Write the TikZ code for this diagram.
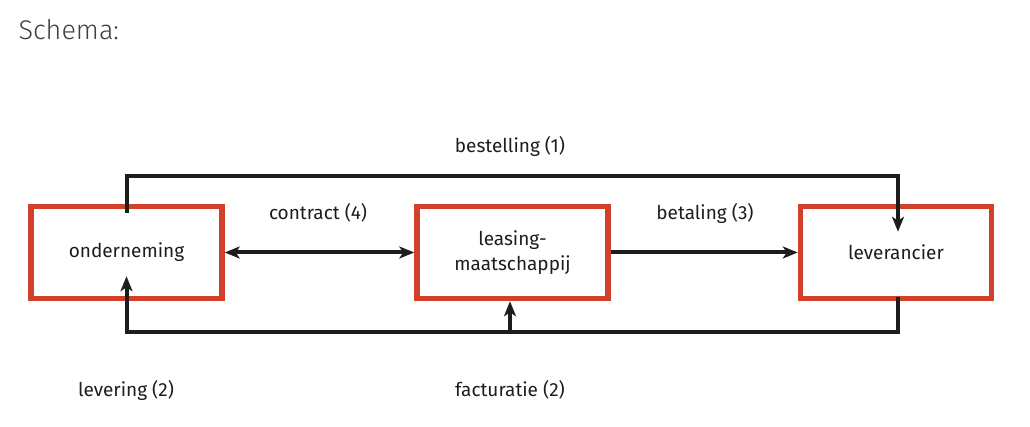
\documentclass[tikz,border=0pt]{standalone}
\usepackage{fontspec}
\setmainfont{Fira Sans}
\newfontfamily\schemafont{Fira Sans Light}
\usetikzlibrary{arrows.meta,calc}
\definecolor{boxred}{HTML}{D0402B}
\definecolor{ink}{HTML}{1D1D1B}

\begin{document}
\begin{tikzpicture}[x=1pt,y=-1pt,font=\fontsize{19}{25}\selectfont,
  party/.style={draw=boxred,line width=5.5pt,minimum width=191pt,minimum height=92pt,
    align=center,text=ink},
  link/.style={draw=ink,line width=4pt},
  tip/.style={-{Stealth[length=15pt,width=12pt,inset=4pt]}},
  flow/.style={text=ink}]
\useasboundingbox (0,0) rectangle (1030,427);

\node[anchor=base west,font=\schemafont\fontsize{27}{30}\selectfont,text=ink!85] (title) at (15,40) {Schema:};

\node[party] (ond) at (126.5,252.5) {onderneming};
\node[party] (lease) at (512.5,252.5) {leasing-\\maatschappij};
\node[party] (lev) at (896,252.5) {leverancier};
\coordinate (rail) at (0,332);

% bestelling
\draw[link,tip] ([yshift=-9pt]ond.north) -- ++(0,-37) -| ([xshift=2pt,yshift=-28pt]lev.north);
% levering en facturatie
\draw[link,tip] ([xshift=2pt,yshift=4pt]lev.south) -- ([xshift=2pt]lev.south |- rail) -- (ond.south |- rail)
  -- ([yshift=25pt]ond.south);
\draw[link,tip] ([xshift=-2.5pt]lease.south |- rail) -- ([xshift=-2.5pt]lease.south);
% contract en betaling
\draw[link,{Stealth[length=15pt,width=12pt,inset=4pt]}-{Stealth[length=15pt,width=12pt,inset=4pt]}] (ond.east) -- (lease.west);
\draw[link,tip] (lease.east) -- (lev.west);

\node[flow] (bestelling) at (510,146) {bestelling (1)};
\node[flow] (contract) at (318,213) {contract (4)};
\node[flow] (betaling) at (705,213) {betaling (3)};
\node[flow] (levering) at (126,390) {levering (2)};
\node[flow] (facturatie) at (510,390) {facturatie (2)};
\end{tikzpicture}
\end{document}
